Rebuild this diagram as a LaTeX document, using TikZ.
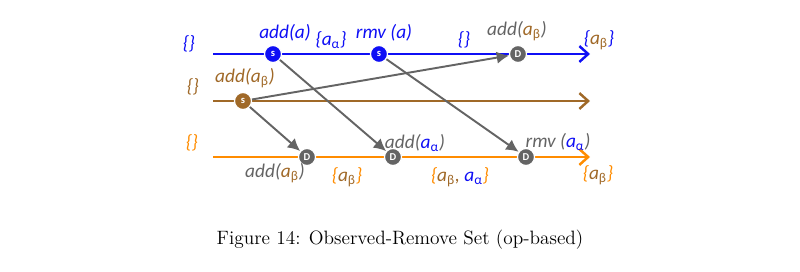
\documentclass[tikz,border=0pt]{standalone}
\usepackage{fontspec}
\newfontfamily\lblfont{Carlito}
\usetikzlibrary{arrows.meta,positioning}
\definecolor{setblue}{RGB}{15,15,245}
\definecolor{setbrown}{RGB}{160,105,40}
\definecolor{setorange}{RGB}{255,140,0}
\definecolor{opgray}{RGB}{100,100,100}
\newcommand{\elB}{\textcolor{setbrown}{a\textsubscript{\upshape β}}}
\newcommand{\elA}{\textcolor{setblue}{a\textsubscript{\upshape α}}}
\begin{document}
\begin{tikzpicture}[
x=0.02cm, y=-0.02cm,
every node/.style={font=\lblfont\itshape\fontsize{11}{13}\selectfont, inner sep=1pt},
proc/.style={draw=#1, line width=1.2pt, -{Straight Barb[length=5pt,width=9pt,line width=1.4pt]}},
msg/.style={draw=opgray, line width=1.1pt, -{Latex[length=7pt,width=7pt]}},
evt/.style={circle, fill=#1, draw=white, line width=0.7pt, inner sep=0pt, minimum size=0.34cm,
  text=white, font=\lblfont\bfseries\upshape\fontsize{6}{6}\selectfont}
]
\useasboundingbox (0,0) rectangle (800,271);

% time lines
\coordinate (blueStart) at (213,54);
\coordinate (blueEnd) at (590,54);
\coordinate (brownStart) at (213,101);
\coordinate (brownEnd) at (590,101);
\coordinate (orangeStart) at (213,157);
\coordinate (orangeEnd) at (590,157);
\draw[proc=setblue] (blueStart) -- (blueEnd);
\draw[proc=setbrown] (brownStart) -- (brownEnd);
\draw[proc=setorange] (orangeStart) -- (orangeEnd);

% events
\node[evt=setblue] (addA) at (273,54) {s};
\node[evt=setblue] (rmvA) at (379,54) {s};
\node[evt=opgray] (blueAddB) at (518,54) {D};
\node[evt=setbrown] (addB) at (243,101) {s};
\node[evt=opgray] (orangeAddB) at (307,157) {D};
\node[evt=opgray] (orangeAddA) at (393,157) {D};
\node[evt=opgray] (orangeRmvA) at (526,157) {D};

% labels
\node[text=setblue] (blueInit) at (189,44) {\{\}};
\node[text=setbrown] (brownInit) at (193,87) {\{\}};
\node[text=setorange] (orangeInit) at (192,143) {\{\}};
\node[text=setblue] (addALbl) at (285,33) {add(a)};
\node[text=setblue] (blueSetA) at (331,40) {\{\elA\}};
\node[text=setblue] (rmvALbl) at (384,33) {rmv (a)};
\node[text=setblue] (blueEmpty) at (464,40) {\{\}};
\node[text=opgray] (blueAddBLbl) at (517,31) {add(\elB)};
\node[text=setblue] (blueSetB) at (599,40) {\{\elB\}};
\node[text=setbrown] (addBLbl) at (245,78) {add(\elB)};
\node[text=opgray] (orangeAddBLbl) at (275,173) {add(\elB)};
\node[text=setorange] (orangeSetB) at (347,177) {\{\elB\}};
\node[text=opgray] (orangeAddALbl) at (415,143) {add(\elA)};
\node[text=setorange] (orangeSetBA) at (460,177) {\{\elB\textcolor{setbrown}{,} \elA\}};
\node[text=opgray] (orangeRmvALbl) at (558,142) {rmv (\elA)};
\node[text=setorange] (orangeSetEnd) at (598,175) {\{\elB\}};

% messages
\draw[msg] (addA) -- (orangeAddA);
\draw[msg] (rmvA) -- (orangeRmvA);
\draw[msg] (addB) -- (blueAddB);
\draw[msg] (addB) -- (orangeAddB);

\node[font=\rmfamily\upshape\fontsize{11}{13}\selectfont] (caption) at (400,240) {Figure 14: Observed-Remove Set (op-based)};
\end{tikzpicture}
\end{document}
